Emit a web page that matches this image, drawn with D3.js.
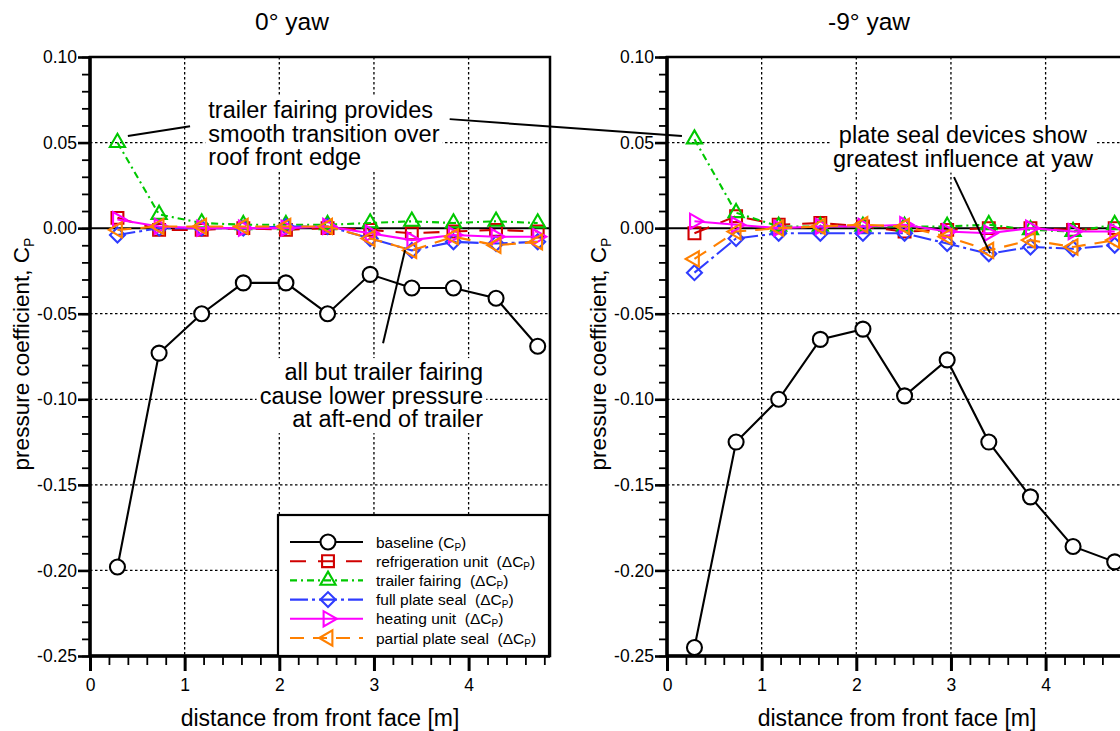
<!DOCTYPE html>
<html>
<head>
<meta charset="utf-8">
<script src="https://cdn.jsdelivr.net/npm/d3@7"></script>
<style>
  body { margin: 0; background: #fff; }
  svg { display: block; font-family: Arial, "Liberation Sans", Helvetica, sans-serif; }
</style>
</head>
<body>
<svg id="chart" width="1120" height="731"></svg>
<script>
// tap positions along the trailer roof [m]
const distance = [0.29, 0.73, 1.18, 1.62, 2.07, 2.51, 2.96, 3.40, 3.84, 4.29, 4.73];

// 0 deg yaw: baseline Cp and device deltas
const baseline0 = [-0.198, -0.073, -0.050, -0.032, -0.032, -0.050, -0.027, -0.035, -0.035, -0.041, -0.069];
const refrig0   = [0.006, -0.001, -0.001, 0.000, -0.001, 0.000, -0.001, -0.003, -0.002, -0.001, -0.002];
const fairing0  = [0.050, 0.008, 0.003, 0.002, 0.002, 0.002, 0.003, 0.004, 0.003, 0.004, 0.003];
const fullSeal0 = [-0.004, 0.000, 0.000, 0.000, 0.001, 0.001, -0.006, -0.013, -0.008, -0.009, -0.008];
const heating0  = [0.005, 0.001, 0.000, 0.000, 0.000, 0.001, -0.003, -0.007, -0.004, -0.005, -0.005];
const partial0  = [-0.001, 0.001, 0.001, 0.001, 0.001, 0.001, -0.006, -0.013, -0.005, -0.010, -0.008];

// -9 deg yaw
const baseline9 = [-0.245, -0.125, -0.100, -0.065, -0.059, -0.098, -0.077, -0.125, -0.157, -0.186, -0.195];
const refrig9   = [-0.003, 0.007, 0.002, 0.003, 0.001, -0.002, -0.001, 0.000, 0.000, -0.001, 0.000];
const fairing9  = [0.052, 0.009, 0.001, 0.001, 0.001, 0.001, 0.001, 0.002, -0.001, -0.002, 0.002];
const fullSeal9 = [-0.026, -0.006, -0.003, -0.003, -0.003, -0.003, -0.009, -0.015, -0.011, -0.012, -0.010];
const heating9  = [0.004, 0.002, 0.000, 0.001, 0.001, 0.002, -0.002, -0.003, 0.000, -0.002, -0.002];
const partial9  = [-0.018, -0.002, 0.000, 0.001, 0.002, 0.001, -0.005, -0.013, -0.007, -0.011, -0.007];

const xMajor = [0, 1, 2, 3, 4];
const yMajor = [0.10, 0.05, 0.00, -0.05, -0.10, -0.15, -0.20, -0.25];
const xDomain = [0, 4.86];
const yDomain = [-0.25, 0.10];

const seriesNames = ["baseline", "refrigeration unit", "trailer fairing", "full plate seal", "heating unit", "partial plate seal"];

// styling per series
const styles = [
  { color: "#000000", dash: null,         sym: "circle" },
  { color: "#d00000", dash: "16,12",      sym: "square" },
  { color: "#00c800", dash: "7,4,2,4",    sym: "triUp" },
  { color: "#2f3cff", dash: "18,4,3,4",   sym: "diamond" },
  { color: "#ff00ff", dash: null,         sym: "triRight" },
  { color: "#ff8000", dash: "14,9",       sym: "triLeft" }
];

const panels = [
  { title: "0\u00b0 yaw",  left: 90,  values: [baseline0, refrig0, fairing0, fullSeal0, heating0, partial0] },
  { title: "-9\u00b0 yaw", left: 667, values: [baseline9, refrig9, fairing9, fullSeal9, heating9, partial9] }
];

const plotTop = 57, plotW = 460, plotH = 599;
const svg = d3.select("#chart");

function markerPath(kind) {
  if (kind === "square") return d3.symbol(d3.symbolSquare, 140)();
  if (kind === "diamond") return d3.symbol(d3.symbolSquare, 112)();
  return d3.symbol(d3.symbolTriangle, 100)();
}
function markerRotate(kind) {
  return kind === "diamond" ? 45 : kind === "triRight" ? 90 : kind === "triLeft" ? -90 : 0;
}
function drawMarker(g, kind, color, cx, cy) {
  if (kind === "circle") {
    g.append("circle").attr("cx", cx).attr("cy", cy).attr("r", 7.5)
      .attr("fill", "#fff").attr("stroke", color).attr("stroke-width", 2.1);
  } else {
    g.append("path").attr("d", markerPath(kind))
      .attr("transform", `translate(${cx},${cy}) rotate(${markerRotate(kind)})`)
      .attr("fill", "none").attr("stroke", color).attr("stroke-width", 2.1);
  }
}

// text block with a white knock-out behind it
function note(g, lines, x, y, anchor) {
  const t = g.append("text").attr("x", x).attr("y", y).attr("text-anchor", anchor)
    .attr("font-size", 23.5).attr("fill", "#000");
  lines.forEach((s, i) => t.append("tspan").attr("x", x).attr("dy", i ? 23.5 : 0).text(s));
  const b = t.node().getBBox();
  g.insert("rect", () => t.node())
    .attr("x", b.x - 3).attr("y", b.y - 1).attr("width", b.width + 6).attr("height", b.height + 2)
    .attr("fill", "#fff");
}

const scales = [];

panels.forEach((p, pi) => {
  const x = d3.scaleLinear().domain(xDomain).range([p.left, p.left + plotW]);
  const y = d3.scaleLinear().domain(yDomain).range([plotTop + plotH, plotTop]);
  scales.push({ x, y });
  const g = svg.append("g");

  // dotted grid at the major ticks
  g.append("g").selectAll("line").data(xMajor.filter(v => v > 0))
    .join("line").attr("x1", d => x(d)).attr("x2", d => x(d)).attr("y1", plotTop).attr("y2", plotTop + plotH)
    .attr("stroke", "#000").attr("stroke-width", 1.3).attr("stroke-dasharray", "2.5,2.5");
  g.append("g").selectAll("line").data(yMajor.filter(v => v !== 0 && v > -0.25 && v < 0.1))
    .join("line").attr("x1", p.left).attr("x2", p.left + plotW).attr("y1", d => y(d)).attr("y2", d => y(d))
    .attr("stroke", "#000").attr("stroke-width", 1.3).attr("stroke-dasharray", "2.5,2.5");
  g.append("line").attr("x1", p.left).attr("x2", p.left + plotW).attr("y1", y(0)).attr("y2", y(0))
    .attr("stroke", "#000").attr("stroke-width", 2);

  // annotation texts
  if (pi === 0) {
    note(g, ["trailer fairing provides", "smooth transition over", "roof front edge"], x(1.25), y(0.0643), "start");
    note(g, ["all but trailer fairing", "cause lower pressure", "at aft-end of trailer"], x(4.152), y(-0.0888), "end");
  } else {
    note(g, ["plate seal devices show", "greatest influence at yaw"], x(3.127), y(0.0497), "middle");
  }

  // series: lines then markers
  p.values.forEach((vals, si) => {
    const st = styles[si];
    const pts = vals.map((v, i) => [distance[i], v]);
    g.append("path").datum(pts)
      .attr("d", d3.line().x(d => x(d[0])).y(d => y(d[1])))
      .attr("fill", "none").attr("stroke", st.color).attr("stroke-width", 2.1)
      .attr("stroke-dasharray", st.dash);
    const mg = g.append("g");
    pts.forEach(d => drawMarker(mg, st.sym, st.color, x(d[0]), y(d[1])));
  });

  // ticks
  const yMinor = d3.range(-25, 11).map(i => i / 100);
  const xMinor = d3.range(0, 25).map(i => i / 5);
  g.append("g").attr("transform", `translate(${p.left},0)`)
    .call(d3.axisLeft(y).tickValues(yMinor).tickSize(8).tickSizeOuter(0).tickFormat(""))
    .call(a => a.select(".domain").remove())
    .call(a => a.selectAll("line").attr("stroke-width", 1.8));
  g.append("g").attr("transform", `translate(${p.left},0)`)
    .call(d3.axisLeft(y).tickValues(yMajor).tickSize(12).tickSizeOuter(0).tickPadding(1)
      .tickFormat(d => d.toFixed(2)))
    .call(a => a.select(".domain").remove())
    .call(a => a.selectAll("line").attr("stroke-width", 2.6))
    .call(a => a.selectAll("text").attr("font-size", 17.5).attr("font-family", null).attr("fill", "#000"));
  g.append("g").attr("transform", `translate(0,${plotTop + plotH})`)
    .call(d3.axisBottom(x).tickValues(xMinor).tickSize(9).tickSizeOuter(0).tickFormat(""))
    .call(a => a.select(".domain").remove())
    .call(a => a.selectAll("line").attr("stroke-width", 1.8));
  g.append("g").attr("transform", `translate(0,${plotTop + plotH})`)
    .call(d3.axisBottom(x).tickValues(xMajor).tickSize(15).tickSizeOuter(0).tickPadding(8).tickFormat(d3.format("d")))
    .call(a => a.select(".domain").remove())
    .call(a => a.selectAll("line").attr("stroke-width", 3))
    .call(a => a.selectAll("text").attr("font-size", 17.5).attr("font-family", null).attr("fill", "#000"));

  // frame
  g.append("rect").attr("x", p.left).attr("y", plotTop).attr("width", plotW).attr("height", plotH)
    .attr("fill", "none").attr("stroke", "#000").attr("stroke-width", 2.5);
  g.append("line").attr("x1", p.left).attr("x2", p.left).attr("y1", plotTop - 1).attr("y2", plotTop + plotH + 1)
    .attr("stroke", "#000").attr("stroke-width", 3.5);
  g.append("line").attr("x1", p.left - 1).attr("x2", p.left + plotW).attr("y1", plotTop + plotH).attr("y2", plotTop + plotH)
    .attr("stroke", "#000").attr("stroke-width", 3.5);

  // titles and axis labels
  g.append("text").attr("x", p.left + 202).attr("y", 30).attr("text-anchor", "middle")
    .attr("font-size", 24.5).text(p.title);
  g.append("text").attr("x", p.left + plotW / 2).attr("y", 726).attr("text-anchor", "middle")
    .attr("font-size", 23).text("distance from front face [m]");
  const yl = g.append("text").attr("transform", `translate(${p.left - 61},${354}) rotate(-90)`)
    .attr("text-anchor", "middle").attr("font-size", 22.5);
  yl.append("tspan").text("pressure coefficient, C");
  yl.append("tspan").attr("font-size", 14).attr("dy", 5).text("P");

  // pointers
  const pointer = (a, b) => g.append("line")
    .attr("x1", x(a[0])).attr("y1", y(a[1])).attr("x2", x(b[0])).attr("y2", y(b[1]))
    .attr("stroke", "#000").attr("stroke-width", 2);
  if (pi === 0) {
    pointer([0.40, 0.0538], [1.057, 0.0596]);
    pointer([3.096, -0.0672], [3.328, -0.0129]);
  } else {
    pointer([3.032, 0.0298], [3.413, -0.0146]);
  }

  // legend (left panel only)
  if (pi === 0) {
    const lg = g.append("g").attr("transform", `translate(${p.left + 188},${plotTop + 458})`);
    lg.append("rect").attr("width", 271).attr("height", 141)
      .attr("fill", "#fff").attr("stroke", "#000").attr("stroke-width", 2.2);
    seriesNames.forEach((name, i) => {
      const st = styles[i];
      const ry = 27 + i * 19.2;
      lg.append("line").attr("x1", 12).attr("x2", 85).attr("y1", ry).attr("y2", ry)
        .attr("stroke", st.color).attr("stroke-width", 2.1).attr("stroke-dasharray", st.dash);
      drawMarker(lg, st.sym, st.color, 50, ry);
      const t = lg.append("text").attr("x", 98).attr("y", ry + 5.5).attr("font-size", 15.5)
        .style("white-space", "pre");
      if (i === 0) {
        t.append("tspan").text(name + " (C");
      } else {
        t.append("tspan").text(name + "  (\u0394C");
      }
      t.append("tspan").attr("font-size", 10).attr("dy", 3).text("P");
      t.append("tspan").attr("dy", -3).text(")");
    });
  }
});

// long pointer from the left note to the -9 deg fairing peak
const L = scales[0], R = scales[1];
svg.append("line")
  .attr("x1", L.x(3.80)).attr("y1", L.y(0.0637))
  .attr("x2", R.x(0.158)).attr("y2", R.y(0.0538))
  .attr("stroke", "#000").attr("stroke-width", 2);
</script>
</body>
</html>
